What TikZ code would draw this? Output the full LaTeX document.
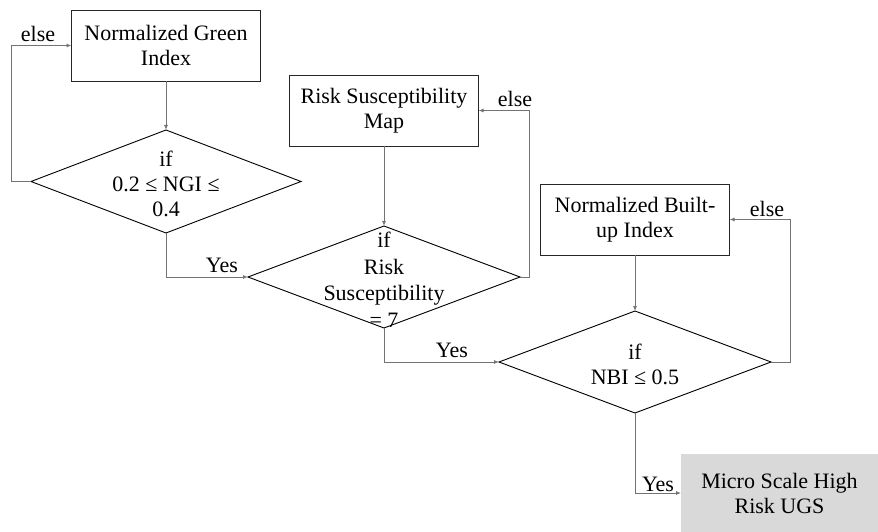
\documentclass[tikz,border=0pt]{standalone}
\usepackage{fontspec}
\setmainfont{Liberation Serif}
\usetikzlibrary{shapes.geometric,arrows.meta}
\definecolor{outfill}{HTML}{D9D9D9}
\begin{document}
\begin{tikzpicture}[x=1pt,y=-1pt,
  every node/.style={font=\fontsize{22}{25}\selectfont, inner sep=0pt, outer sep=0pt},
  procbox/.style={draw=black!85, line width=0.9pt, rectangle, minimum width=189pt, minimum height=71pt, align=center},
  dia/.style={draw=black, line width=0.9pt, diamond, minimum width=272pt, minimum height=102pt},
  diatext/.style={align=center},
  conn/.style={draw=black!55, line width=0.9pt, -{Latex[length=5pt,width=4pt]}},
  lbl/.style={anchor=base}
]
\useasboundingbox (0,0) rectangle (878,532);
% boxes
\node[procbox] (ngi) at (166,45.5) {Normalized Green\\Index};
\node[procbox] (rsm) at (384,110.5) {Risk Susceptibility\\Map};
\node[procbox] (nbi) at (635,219.5) {Normalized Built-\\up Index};
\node[fill=outfill, minimum width=197pt, minimum height=78pt, align=center] (out) at (779.5,493) {Micro Scale High\\Risk UGS};
% diamonds
\node[dia, minimum width=270pt, minimum height=103pt] (d1) at (166,181.5) {};
\node[dia] (d2) at (384,277) {};
\node[dia] (d3) at (635,362) {};
\node[diatext] (t1) at (166,184) {if\\0.2 ≤ NGI ≤\\0.4};
\node[diatext, font=\fontsize{22}{26.5}\selectfont] (t2) at (384,280) {if\\Risk\\Susceptibility\\= 7};
\node[diatext] (t3) at (635,364) {if\\NBI ≤ 0.5};
% connectors
\draw[conn] (ngi.south) -- (d1.north);
\draw[conn] (rsm.south) -- (d2.north);
\draw[conn] (nbi.south) -- (d3.north);
\draw[conn] (d1.west) -- ++(-20,0) |- (ngi.west);
\draw[conn] (d2.east) -- ++(9,0) |- (rsm.east);
\draw[conn] (d3.east) -- ++(19,0) |- (nbi.east);
\draw[conn] (d1.south) |- (d2.west);
\draw[conn] (d2.south) |- (d3.west);
\draw[conn] (d3.south) |- (out.west);
% labels
\node[lbl] (e1) at (38,42) {else};
\node[lbl] (e2) at (515,107) {else};
\node[lbl] (e3) at (767,216) {else};
\node[lbl] (y1) at (222,272) {Yes};
\node[lbl] (y2) at (452,357) {Yes};
\node[lbl] (y3) at (658,491) {Yes};
\end{tikzpicture}
\end{document}
